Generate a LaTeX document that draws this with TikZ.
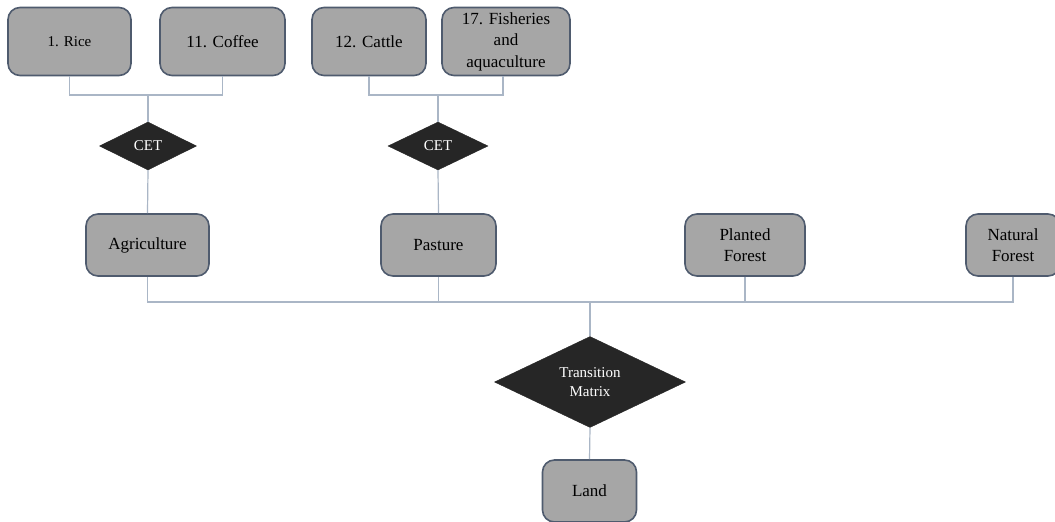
\documentclass[tikz,border=0pt]{standalone}
\usepackage{fontspec}
\setmainfont{Liberation Serif}
\usepackage{tikz}
\usetikzlibrary{shapes.geometric,positioning,calc}
\usepackage{xcolor}
\definecolor{boxgray}{HTML}{A6A6A6}
\definecolor{boxedge}{HTML}{4F5B6E}
\definecolor{linkblue}{HTML}{AAB6C6}
\definecolor{gatefill}{HTML}{262626}

\begin{document}
\begin{tikzpicture}[x=1pt, y=-1pt,
    box/.style={rectangle, draw=boxedge, fill=boxgray, line width=1.6pt, rounded corners=12pt,
                minimum height=68pt, align=center, font=\fontsize{17}{21.5}\selectfont, inner sep=2pt},
    gate/.style={diamond, fill=gatefill, draw=gatefill, text=white, inner sep=0pt, aspect=2,
                 align=center, font=\fontsize{15}{18}\selectfont},
    link/.style={draw=linkblue, line width=1.2pt}
]
    \useasboundingbox[fill=white] (0,0) rectangle (1055,522);

    % top row
    \node[box, minimum width=123pt, font=\fontsize{15}{18}\selectfont] (rice) at (69.5,41.5) {1. Rice};
    \node[box, minimum width=125pt] (coffee) at (222.5,41.5) {11. Coffee};
    \node[box, minimum width=114pt] (cattle) at (369,41.5) {12. Cattle};
    \node[box, minimum width=128pt] (fish) at (506,41.5) {17. Fisheries\\and\\aquaculture};

    % CET nodes
    \node[gate, minimum width=97pt, minimum height=48pt] (cet1) at (148,146) {CET};
    \node[gate, minimum width=100pt, minimum height=48pt] (cet2) at (438,146) {CET};

    % land uses
    \node[box, minimum width=123pt, minimum height=62pt] (agri) at (147.5,245) {Agriculture};
    \node[box, minimum width=115pt, minimum height=62pt] (past) at (438.5,245) {Pasture};
    \node[box, minimum width=120pt, minimum height=62pt] (plant) at (745,245) {Planted\\Forest};
    \node[box, minimum width=94pt, minimum height=62pt] (natural) at (1013,245) {Natural\\Forest};

    % transition and land
    \node[gate, minimum width=191pt, minimum height=91pt, font=\fontsize{15}{19.5}\selectfont] (trans) at (590,382) {Transition\\Matrix};
    \node[box, minimum width=94pt, minimum height=62pt] (land) at (589.5,491) {Land};

    \coordinate (j1) at (148,95);
    \coordinate (j2) at (438,95);
    \coordinate (j3) at (590,302);

    \draw[link] (rice.south) |- (j1) -| (coffee.south);
    \draw[link] (j1) -- (cet1.north);
    \draw[link] (cattle.south) |- (j2) -| ([xshift=-3pt]fish.south);
    \draw[link] (j2) -- (cet2.north);
    \draw[link] (cet1.south) -- (agri.north);
    \draw[link] (cet2.south) -- (past.north);

    \draw[link] (agri.south) |- (j3) -| (natural.south);
    \draw[link] (past.south) -- (past.south |- j3);
    \draw[link] (plant.south) -- (plant.south |- j3);
    \draw[link] (j3) -- (trans.north);
    \draw[link] (trans.south) -- (land.north);
\end{tikzpicture}
\end{document}
